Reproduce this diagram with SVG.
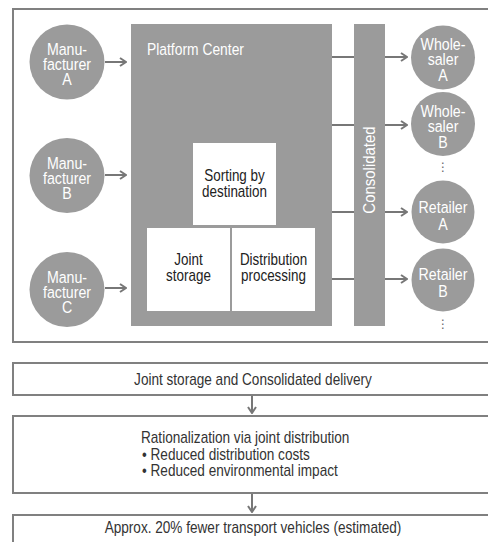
<svg xmlns="http://www.w3.org/2000/svg" width="488" height="542" viewBox="0 0 488 542">
<style>
text{font-family:"Liberation Sans",Arial,sans-serif;font-size:16px}
.w{fill:#fff}
.d{fill:#222}
.b{fill:#333}
.g{fill:#9b9b9b}
.frame{fill:#fff;stroke:#808080;stroke-width:2}
.box{fill:#fff}
.c{text-anchor:middle}
.cir{font-size:16.5px}
.arr{fill:none;stroke:#777;stroke-width:2}
.dots{font-family:"DejaVu Sans",sans-serif;font-size:12px;fill:#666;text-anchor:middle}
</style>
<defs>
<marker id="ah" viewBox="0 0 10 10" refX="9" refY="5" markerWidth="10" markerHeight="10" markerUnits="userSpaceOnUse" orient="auto">
<path d="M3,1 L9,5 L3,9" fill="none" stroke="#777" stroke-width="2"/>
</marker>
</defs>
<rect class="frame" x="13" y="9" width="490" height="333"/>
<g id="platform">
<rect class="g" x="131" y="24" width="201" height="302"/>
<text class="w" transform="translate(147,55) scale(0.84,1)" style="font-size:16.5px">Platform Center</text>
</g>
<g id="sorting">
<rect class="box" x="193" y="143" width="83" height="82"/>
<text class="d c" transform="translate(234.5,181) scale(0.84,1)">Sorting by</text>
<text class="d c" transform="translate(234.5,197) scale(0.84,1)">destination</text>
</g>
<g id="joint">
<rect class="box" x="147" y="228" width="83" height="83"/>
<text class="d c" transform="translate(188.5,265) scale(0.84,1)">Joint</text>
<text class="d c" transform="translate(188.5,281) scale(0.84,1)">storage</text>
</g>
<g id="distribution">
<rect class="box" x="232" y="228" width="83" height="83"/>
<text class="d c" transform="translate(273.5,265) scale(0.84,1)">Distribution</text>
<text class="d c" transform="translate(273.5,281) scale(0.84,1)">processing</text>
</g>
<g id="consolidated">
<rect class="g" x="354" y="24" width="31" height="302"/>
<text class="w c" transform="translate(375,170) rotate(-90) scale(0.88,1)" style="font-size:17px">Consolidated</text>
</g>
<g id="manA">
<circle class="g" cx="67" cy="62" r="37.5"/>
<text class="w c cir" transform="translate(67,55) scale(0.86,1)">Manu-</text><text class="w c cir" transform="translate(67,70) scale(0.86,1)">facturer</text><text class="w c cir" transform="translate(67,85) scale(0.86,1)">A</text>
</g>
<g id="manB">
<circle class="g" cx="67" cy="175.5" r="37.5"/>
<text class="w c cir" transform="translate(67,168.5) scale(0.86,1)">Manu-</text><text class="w c cir" transform="translate(67,183.5) scale(0.86,1)">facturer</text><text class="w c cir" transform="translate(67,198.5) scale(0.86,1)">B</text>
</g>
<g id="manC">
<circle class="g" cx="67" cy="289.5" r="37.5"/>
<text class="w c cir" transform="translate(67,282.5) scale(0.86,1)">Manu-</text><text class="w c cir" transform="translate(67,297.5) scale(0.86,1)">facturer</text><text class="w c cir" transform="translate(67,312.5) scale(0.86,1)">C</text>
</g>
<g id="wsA">
<circle class="g" cx="443" cy="57.5" r="32"/>
<text class="w c cir" transform="translate(443,50) scale(0.86,1)">Whole-</text><text class="w c cir" transform="translate(443,65) scale(0.86,1)">saler</text><text class="w c cir" transform="translate(443,81) scale(0.86,1)">A</text>
</g>
<g id="wsB">
<circle class="g" cx="443" cy="124" r="32"/>
<text class="w c cir" transform="translate(443,117) scale(0.86,1)">Whole-</text><text class="w c cir" transform="translate(443,132) scale(0.86,1)">saler</text><text class="w c cir" transform="translate(443,148) scale(0.86,1)">B</text>
<text class="dots" x="443" y="171">⋮</text>
</g>
<g id="rtA">
<circle class="g" cx="443" cy="212" r="31.5"/>
<text class="w c cir" transform="translate(443,213) scale(0.86,1)">Retailer</text><text class="w c cir" transform="translate(443,230) scale(0.86,1)">A</text>
</g>
<g id="rtB">
<circle class="g" cx="443" cy="280" r="31.5"/>
<text class="w c cir" transform="translate(443,280) scale(0.86,1)">Retailer</text><text class="w c cir" transform="translate(443,297) scale(0.86,1)">B</text>
<text class="dots" x="443" y="328">⋮</text>
</g>
<g id="box1">
<rect class="frame" x="13" y="363" width="490" height="32"/>
<text class="c b" transform="translate(253,385) scale(0.85,1)">Joint storage and Consolidated delivery</text>
</g>
<g id="box2">
<rect class="frame" x="13" y="416" width="490" height="77"/>
<text class="b" transform="translate(141,443) scale(0.85,1)">Rationalization via joint distribution</text>
<text class="b" transform="translate(142,460) scale(0.85,1)">• Reduced distribution costs</text>
<text class="b" transform="translate(142,476) scale(0.85,1)">• Reduced environmental impact</text>
</g>
<g id="box3">
<rect class="frame" x="13" y="515" width="490" height="40"/>
<text class="c b" transform="translate(253,533) scale(0.85,1)">Approx. 20% fewer transport vehicles (estimated)</text>
</g>
<g id="connectors">
<line class="arr" x1="105" y1="62" x2="126" y2="62" marker-end="url(#ah)"/>
<line class="arr" x1="105" y1="175" x2="126" y2="175" marker-end="url(#ah)"/>
<line class="arr" x1="105" y1="288" x2="126" y2="288" marker-end="url(#ah)"/>
<line class="arr" x1="332" y1="57" x2="354" y2="57"/>
<line class="arr" x1="332" y1="125" x2="354" y2="125"/>
<line class="arr" x1="332" y1="212" x2="354" y2="212"/>
<line class="arr" x1="332" y1="279" x2="354" y2="279"/>
<line class="arr" x1="385" y1="57" x2="407" y2="57" marker-end="url(#ah)"/>
<line class="arr" x1="385" y1="125" x2="407" y2="125" marker-end="url(#ah)"/>
<line class="arr" x1="385" y1="212" x2="407" y2="212" marker-end="url(#ah)"/>
<line class="arr" x1="385" y1="279" x2="407" y2="279" marker-end="url(#ah)"/>
<line class="arr" x1="252" y1="396" x2="252" y2="413" marker-end="url(#ah)"/>
<line class="arr" x1="252" y1="494" x2="252" y2="512" marker-end="url(#ah)"/>
</g>
</svg>
